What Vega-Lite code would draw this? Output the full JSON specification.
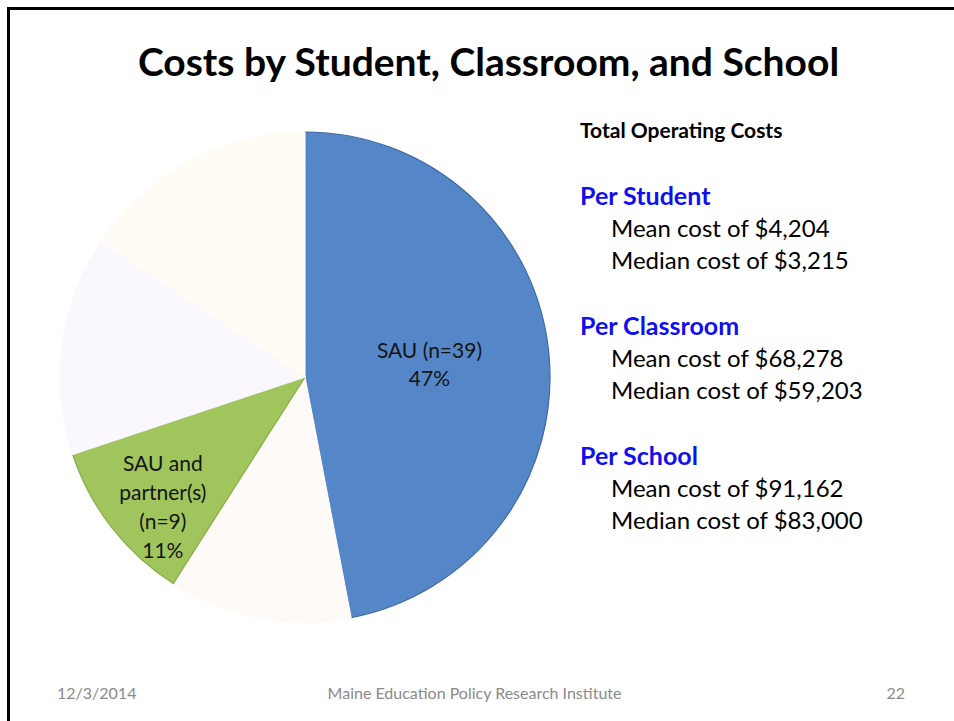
{
  "$schema": "https://vega.github.io/schema/vega-lite/v6.json",
  "padding": {"left": 7, "top": 7, "right": 0, "bottom": 0},
  "background": "white",
  "config": {"view": {"stroke": null}, "font": "Lato"},
  "datasets": {
    "slices": [
      {"category": "SAU", "n": 39, "label": "SAU (n=39)\n47%", "ord": 1},
      {"category": "Other 1", "n": 10, "label": "", "ord": 2},
      {"category": "SAU and partner(s)", "n": 9, "label": "SAU and\npartner(s)\n(n=9)\n11%", "ord": 3},
      {"category": "Other 2", "n": 12, "label": "", "ord": 4},
      {"category": "Other 3", "n": 13, "label": "", "ord": 5}
    ],
    "costs": [
      {"line": 1, "level": "head", "kind": "total", "text": "Total Operating Costs"},
      {"line": 3, "level": "head", "kind": "section", "text": "Per Student"},
      {"line": 4, "level": "item", "kind": "item", "text": "Mean cost of $4,204"},
      {"line": 5, "level": "item", "kind": "item", "text": "Median cost of $3,215"},
      {"line": 7, "level": "head", "kind": "section", "text": "Per Classroom"},
      {"line": 8, "level": "item", "kind": "item", "text": "Mean cost of $68,278"},
      {"line": 9, "level": "item", "kind": "item", "text": "Median cost of $59,203"},
      {"line": 11, "level": "head", "kind": "section", "text": "Per School"},
      {"line": 12, "level": "item", "kind": "item", "text": "Mean cost of $91,162"},
      {"line": 13, "level": "item", "kind": "item", "text": "Median cost of $83,000"}
    ],
    "footer": [
      {"slot": "date", "text": "12/3/2014"},
      {"slot": "org", "text": "Maine Education Policy Research Institute"},
      {"slot": "page", "text": "22"}
    ],
    "frame": [{"part": "edge"}]
  },
  "spacing": 0,
  "hconcat": [
    {
      "data": {"name": "frame"},
      "width": 3,
      "height": 714,
      "mark": {"type": "rect", "color": "black"},
      "encoding": {}
    },
    {
      "spacing": 35,
      "vconcat": [
        {
          "data": {"name": "frame"},
          "width": 944,
          "height": 3,
          "mark": {"type": "rect", "color": "black"},
          "encoding": {}
        },
        {
          "title": {
            "text": "Costs by Student, Classroom, and School",
            "font": "Lato",
            "fontSize": 39,
            "fontWeight": "bold",
            "color": "black",
            "anchor": "middle",
            "dx": 31,
            "offset": 37
          },
          "spacing": 59,
          "vconcat": [
            {
              "spacing": 0,
              "bounds": "flush",
              "hconcat": [
                {
                  "data": {"name": "slices"},
                  "width": 590,
                  "height": 490,
                  "encoding": {
                    "theta": {"field": "n", "type": "quantitative", "stack": true},
                    "order": {"field": "ord", "type": "quantitative"}
                  },
                  "layer": [
                    {
                      "mark": {"type": "arc", "outerRadius": 245, "strokeWidth": 1.2},
                      "encoding": {
                        "color": {
                          "field": "category",
                          "type": "nominal",
                          "scale": {
                            "domain": ["SAU", "Other 1", "SAU and partner(s)", "Other 2", "Other 3"],
                            "range": ["#5587c8", "#fdfaf7", "#a0c55d", "#faf8fc", "#fefcf4"]
                          },
                          "legend": null
                        },
                        "stroke": {
                          "field": "category",
                          "type": "nominal",
                          "scale": {
                            "domain": ["SAU", "Other 1", "SAU and partner(s)", "Other 2", "Other 3"],
                            "range": ["#3f6aa6", "#fdfaf7", "#89ad48", "#faf8fc", "#fefcf4"]
                          },
                          "legend": null
                        }
                      }
                    },
                    {
                      "mark": {"type": "text", "radius": 125, "dy": -13, "fontSize": 21, "lineHeight": 28, "lineBreak": "\n", "color": "#141414"},
                      "encoding": {
                        "text": {"condition": {"test": "datum.category === 'SAU'", "field": "label"}, "value": ""}
                      }
                    },
                    {
                      "mark": {"type": "text", "radius": 193, "dx": 10, "dy": -31, "fontSize": 21, "lineHeight": 29, "lineBreak": "\n", "color": "#141414"},
                      "encoding": {
                        "text": {"condition": {"test": "datum.category === 'SAU and partner(s)'", "field": "label"}, "value": ""}
                      }
                    }
                  ]
                },
                {
                  "data": {"name": "costs"},
                  "width": 31,
                  "height": 390,
                  "encoding": {
                    "x": {"field": "level", "type": "nominal", "scale": {"type": "point", "domain": ["head", "item"], "padding": 0}, "axis": null},
                    "y": {"field": "line", "type": "quantitative", "scale": {"domain": [1, 13], "reverse": true, "nice": false, "zero": false}, "axis": null},
                    "text": {"field": "text", "type": "nominal"}
                  },
                  "layer": [
                    {
                      "transform": [{"filter": "datum.kind === 'total'"}],
                      "mark": {"type": "text", "align": "left", "baseline": "middle", "dx": -20, "fontSize": 21, "fontWeight": "bold", "color": "#000000"}
                    },
                    {
                      "transform": [{"filter": "datum.kind === 'section'"}],
                      "mark": {"type": "text", "align": "left", "baseline": "middle", "dx": -20, "fontSize": 25, "fontWeight": "bold", "color": "#1010ee"}
                    },
                    {
                      "transform": [{"filter": "datum.kind === 'item'"}],
                      "mark": {"type": "text", "align": "left", "baseline": "middle", "dx": -20, "fontSize": 24, "color": "#000000"}
                    }
                  ]
                }
              ]
            },
            {
              "data": {"name": "footer"},
              "width": 895,
              "height": 20,
              "encoding": {
                "x": {"field": "slot", "type": "nominal", "scale": {"type": "point", "domain": ["date", "org", "page"], "padding": 0}, "axis": null},
                "text": {"field": "text", "type": "nominal"}
              },
              "layer": [
                {
                  "transform": [{"filter": "datum.slot === 'date'"}],
                  "mark": {"type": "text", "align": "left", "baseline": "middle", "dx": 47, "fontSize": 16, "color": "#8a8a8a"}
                },
                {
                  "transform": [{"filter": "datum.slot === 'org'"}],
                  "mark": {"type": "text", "align": "center", "baseline": "middle", "dx": 17, "fontSize": 16, "color": "#8a8a8a"}
                },
                {
                  "transform": [{"filter": "datum.slot === 'page'"}],
                  "mark": {"type": "text", "align": "right", "baseline": "middle", "fontSize": 16, "color": "#8a8a8a"}
                }
              ]
            }
          ]
        }
      ]
    }
  ]
}
